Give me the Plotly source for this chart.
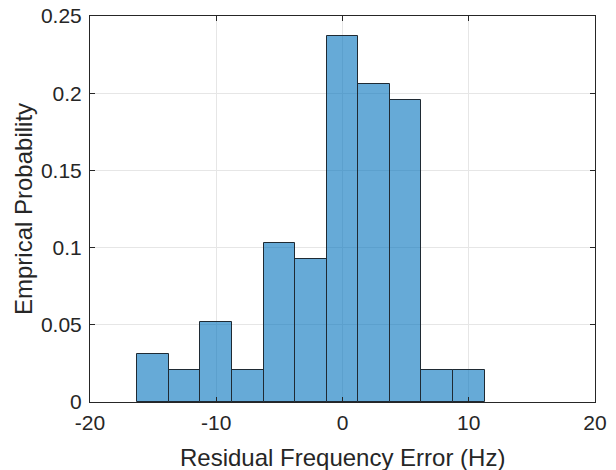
import plotly.graph_objects as go

# histogram bin edges (Hz) and empirical probability per bin
bin_edges = [-16.25, -13.75, -11.25, -8.75, -6.25, -3.75, -1.25, 1.25, 3.75, 6.25, 8.75, 11.25]
probability = [0.0309, 0.0206, 0.0515, 0.0206, 0.1031, 0.0928, 0.2371, 0.2062, 0.1959, 0.0206, 0.0206]

x_ticks = [-20, -10, 0, 10, 20]
x_labels = ["-20", "-10", "0", "10", "20"]
y_ticks = [0, 0.05, 0.1, 0.15, 0.2, 0.25]
y_labels = ["0", "0.05", "0.1", "0.15", "0.2", "0.25"]

centers = [(a + b) / 2 for a, b in zip(bin_edges[:-1], bin_edges[1:])]
widths = [b - a for a, b in zip(bin_edges[:-1], bin_edges[1:])]

fig = go.Figure()
fig.add_trace(go.Bar(
    x=centers, y=probability, width=widths,
    marker=dict(color="rgba(0,114,189,0.6)", line=dict(color="#1f2a33", width=1)),
))

FONT = "Liberation Sans, Arial"
axis_font = dict(family=FONT, size=21, color="#262626")
title_font = dict(family=FONT, size=24, color="#262626")
fig.update_xaxes(
    range=[-20, 20], tickvals=x_ticks, ticktext=x_labels, ticks="inside", ticklen=5, tickcolor="#262626",
    showline=True, linecolor="#262626", linewidth=1, mirror="ticks",
    showgrid=True, gridcolor="#e6e6e6", zeroline=False, tickfont=axis_font,
    automargin=False, ticklabelstandoff=2, ticklabeloverflow="allow",
)
fig.update_yaxes(
    range=[0, 0.25], tickvals=y_ticks, ticktext=y_labels, ticks="inside", ticklen=5, tickcolor="#262626",
    showline=True, linecolor="#262626", linewidth=1, mirror="ticks",
    showgrid=True, gridcolor="#e6e6e6", zeroline=False, tickfont=axis_font,
    automargin=False, ticklabelstandoff=3, ticklabeloverflow="allow",
)
fig.add_annotation(text="Residual Frequency Error (Hz)", xref="paper", yref="paper",
                   x=0.5, y=0, yshift=-55, yanchor="middle", showarrow=False, font=title_font)
fig.add_annotation(text="Emprical Probability", xref="paper", yref="paper",
                   x=0, y=0.5, xshift=-67, xanchor="center", textangle=-90, showarrow=False,
                   font=title_font)
fig.update_layout(
    width=616, height=470,
    margin=dict(l=90, r=21, t=16, b=68),
    plot_bgcolor="white", paper_bgcolor="white",
    showlegend=False, bargap=0,
)

# drop the default 8px page margin so the figure sits at the window's corner
fig.write_html("out.html", config={"displayModeBar": False},
               post_script="document.body.style.margin='0';")
